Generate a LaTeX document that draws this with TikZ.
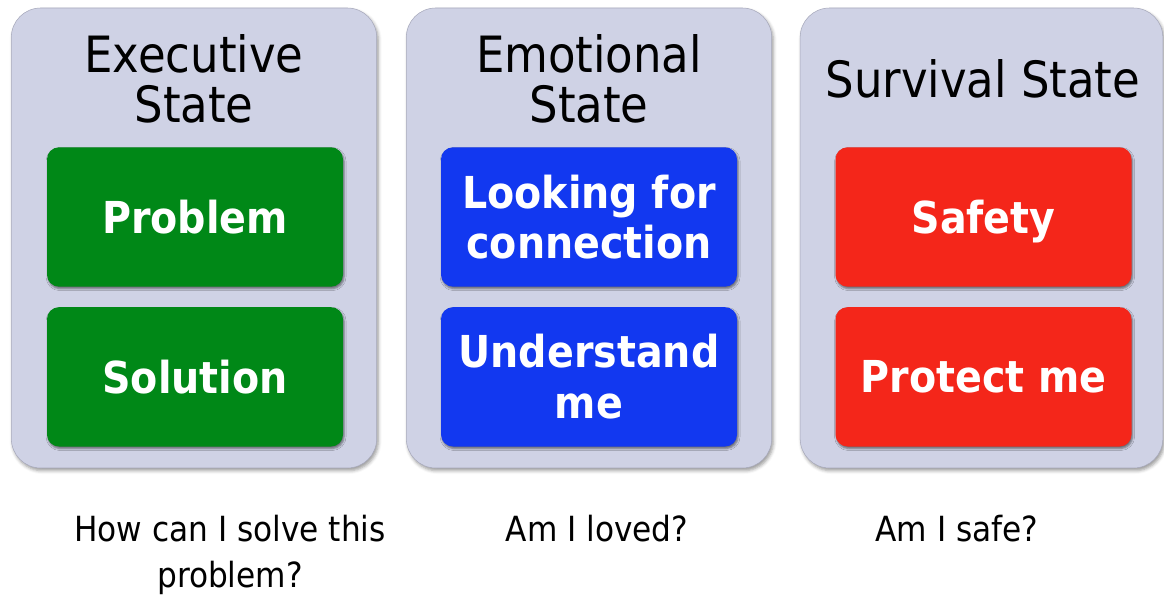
\documentclass[tikz,border=0pt]{standalone}
\usepackage{fontspec}
\setmainfont{DejaVu Sans Condensed}
\usetikzlibrary{positioning,shadows.blur}

\definecolor{panelfill}{RGB}{207,210,229}
\definecolor{paneldraw}{RGB}{168,170,188}
\definecolor{execgreen}{RGB}{0,136,23}
\definecolor{emoblue}{RGB}{18,56,240}
\definecolor{survred}{RGB}{244,38,26}

\begin{document}
\begin{tikzpicture}[x=0.75pt,y=-0.75pt,
  panel/.style={draw=paneldraw, line width=0.4pt, fill=panelfill, rounded corners=22pt, minimum width=274pt, minimum height=345pt, inner sep=0pt, blur shadow={shadow xshift=1.2pt, shadow yshift=-2pt, shadow blur radius=2.5pt, shadow opacity=40}},
  head/.style={align=center, font=\fontsize{37.5}{38}\selectfont},
  statebox/.style={fill=#1, text=white, rounded corners=9pt, minimum width=222pt, minimum height=104.5pt, inner sep=0pt, align=center, font=\bfseries\fontsize{33}{38}\selectfont, blur shadow={shadow xshift=0.8pt, shadow yshift=-1.5pt, shadow blur radius=1.5pt, shadow opacity=50}},
  question/.style={align=center, font=\fontsize{26}{34.5}\selectfont},
  node distance=15pt]
\useasboundingbox (0,0) rectangle (1164,598);

% the three state panels
\node[panel] (exec) at (194,238) {};
\node[panel] (emo) at (589,238) {};
\node[panel, minimum width=272pt] (surv) at (981.5,238) {};

% headings
\node[head] (exechead) at (194,79) {Executive\\State};
\node[head] (emohead) at (589,79) {Emotional\\State};
\node[head] (survhead) at (983,79) {Survival State};

% coloured boxes
\node[statebox=execgreen] (problem) at (195,217) {Problem};
\node[statebox=execgreen, below=of problem] (solution) {Solution};
\node[statebox=emoblue] (looking) at (589,217) {Looking for\\connection};
\node[statebox=emoblue, below=of looking] (understand) {Understand\\me};
\node[statebox=survred, text depth=0pt] (safety) at (983.5,217) {Safety};
\node[statebox=survred, below=of safety] (protect) {Protect me};

% questions underneath (base = last line)
\node[question, anchor=base] (howq) at (230,587) {How can I solve this\\problem?};
\node[question, anchor=base] (lovedq) at (597,541) {Am I loved?};
\node[question, anchor=base] (safeq) at (957,541) {Am I safe?};
\end{tikzpicture}
\end{document}
